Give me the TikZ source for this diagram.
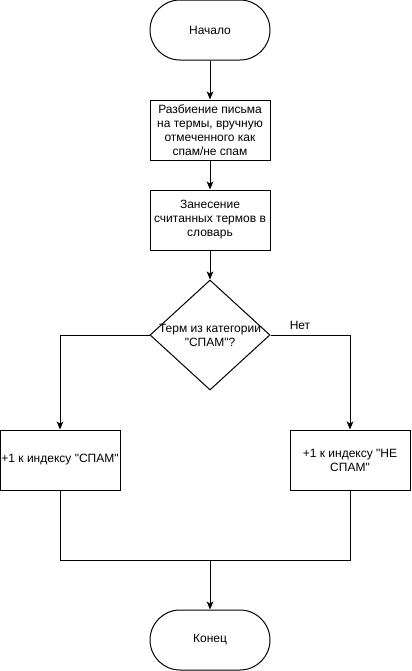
\documentclass[tikz,border=0pt]{standalone}
\usepackage{fontspec}
\setmainfont{Liberation Sans}[Ligatures=TeXOff]
\usetikzlibrary{arrows.meta,shapes.geometric}

\begin{document}
\begin{tikzpicture}[
    x=0.75pt, y=-0.75pt,
    every node/.style={font=\fontsize{9pt}{10.5pt}\selectfont},
    terminal/.style={draw, rounded corners=22.5pt, minimum width=90pt,
                     minimum height=45pt, align=center},
    stepbox/.style={draw, minimum width=90pt, minimum height=45pt,
                    inner sep=1pt, align=center},
    decision/.style={draw, diamond, minimum width=90pt, minimum height=82.5pt,
                     inner sep=0pt},
    flow/.style={-{Stealth[length=6pt, width=5pt, inset=1.5pt]}},
    line width=0.75pt,
  ]
  \useasboundingbox (0,0) rectangle (411,671);
  % Main column
  \node[terminal] (start) at (210, 30) {Начало};
  \node[stepbox] (split) at (210, 130) {Разбиение письма\\на термы, вручную\\отмеченного как\\спам/не спам};
  \node[stepbox] (store) at (210, 220) {Занесение\\считанных термов в\\словарь};
  \node[decision, label={[align=center]center:Терм из категории\\"СПАМ"?}] (check) at (210, 335) {};
  % The two branches
  \node[stepbox] (spam) at (60, 460) {+1 к индексу "СПАМ"};
  \node[stepbox] (ham) at (350, 460) {+1 к индексу "НЕ\\СПАМ"};
  \node (no) at (300, 325) {Нет};
  % The end
  \coordinate (join) at (210, 560);
  \node[terminal] (finish) at (210, 640) {Конец};

  \draw[flow] (start) -- (split);
  \draw[flow] (split) -- (store);
  \draw[flow] (store) -- (check);
  \draw[flow] (check.west) -| (spam.north);
  \draw[flow] (check.east) -| (ham.north);
  \draw (spam.south) |- (join);
  \draw (ham.south) |- (join);
  \draw[flow] (join) -- (finish);
\end{tikzpicture}
\end{document}
